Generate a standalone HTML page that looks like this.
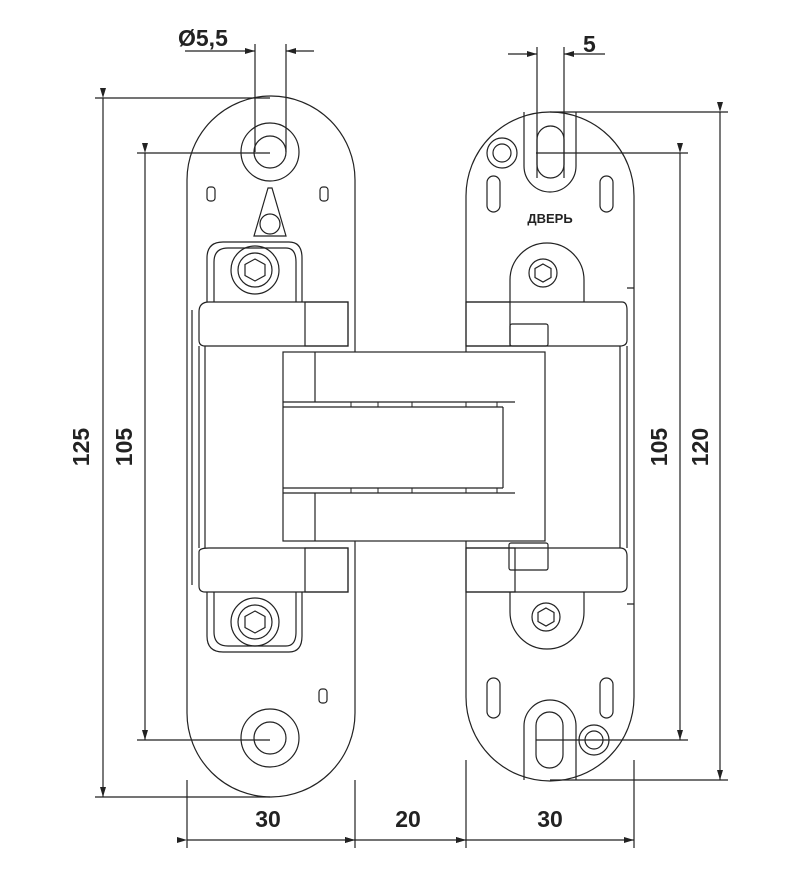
<!DOCTYPE html>
<html><head><meta charset="utf-8"><style>
html,body{margin:0;padding:0;background:#fff;width:800px;height:886px;overflow:hidden}
svg{display:block}
text{font-family:"Liberation Sans",sans-serif;font-weight:bold;fill:#222}
</style></head><body>
<svg width="800" height="886" viewBox="0 0 800 886" xmlns="http://www.w3.org/2000/svg">
<defs>
<marker id="ar" markerWidth="10" markerHeight="6" refX="10" refY="3" orient="auto" markerUnits="userSpaceOnUse"><path d="M0,0 L10,3 L0,6z" fill="#222"/></marker>
</defs>
<g fill="none" stroke="#222" stroke-width="1.2">
<line x1="95" y1="98" x2="270" y2="98"/>
<line x1="95" y1="797" x2="270" y2="797"/>
<line x1="103" y1="98" x2="103" y2="797" marker-start="url(#ar)" marker-end="url(#ar)"/>
<line x1="137" y1="153" x2="270" y2="153"/>
<line x1="137" y1="740" x2="270" y2="740"/>
<line x1="145" y1="153" x2="145" y2="740" marker-start="url(#ar)" marker-end="url(#ar)"/>
<line x1="550" y1="112" x2="728" y2="112"/>
<line x1="550" y1="780" x2="728" y2="780"/>
<line x1="720" y1="112" x2="720" y2="780" marker-start="url(#ar)" marker-end="url(#ar)"/>
<line x1="536" y1="153" x2="688" y2="153"/>
<line x1="536" y1="740" x2="688" y2="740"/>
<line x1="680" y1="153" x2="680" y2="740" marker-start="url(#ar)" marker-end="url(#ar)"/>
<line x1="187" y1="780" x2="187" y2="848"/>
<line x1="355" y1="780" x2="355" y2="848"/>
<line x1="466" y1="760" x2="466" y2="848"/>
<line x1="634" y1="760" x2="634" y2="848"/>
<line x1="187" y1="840" x2="355" y2="840" marker-start="url(#ar)" marker-end="url(#ar)"/>
<line x1="355" y1="840" x2="466" y2="840" marker-start="url(#ar)" marker-end="url(#ar)"/>
<line x1="466" y1="840" x2="634" y2="840" marker-start="url(#ar)" marker-end="url(#ar)"/>
<line x1="255" y1="44" x2="255" y2="152"/>
<line x1="286" y1="44" x2="286" y2="152"/>
<line x1="185" y1="51" x2="255" y2="51" marker-end="url(#ar)"/>
<line x1="314" y1="51" x2="286" y2="51" marker-end="url(#ar)"/>
<line x1="537" y1="47" x2="537" y2="178"/>
<line x1="564" y1="47" x2="564" y2="178"/>
<line x1="508" y1="54" x2="537" y2="54" marker-end="url(#ar)"/>
<line x1="605" y1="54" x2="564" y2="54" marker-end="url(#ar)"/>

<path d="M187,180 A84,84 0 0 1 355,180 L355,713 A84,84 0 0 1 187,713 Z"/>
<circle cx="270" cy="152" r="16"/><circle cx="270" cy="152" r="29"/>
<circle cx="270" cy="738" r="16"/><circle cx="270" cy="738" r="29"/>
<rect x="207" y="187" width="8" height="14" rx="3"/>
<rect x="320" y="187" width="8" height="14" rx="3"/>
<rect x="319" y="689" width="8" height="14" rx="3"/>
<path d="M268,188 L254,236 L286,236 L272,188 Z"/><circle cx="270" cy="224" r="10"/>
<path d="M207,302 L207,258 Q207,242 223,242 L289,242 Q302,242 302,258 L302,302"/>
<path d="M214,302 L214,262 Q214,248 228,248 L286,248 Q296,248 296,262 L296,302"/>
<circle cx="255" cy="270" r="24"/><circle cx="255" cy="270" r="17"/>
<polygon points="255,259 265,264.5 265,275.5 255,281 245,275.5 245,264.5"/>
<path d="M207,592 L207,636 Q207,652 223,652 L289,652 Q302,652 302,636 L302,592"/>
<path d="M214,592 L214,632 Q214,646 228,646 L286,646 Q296,646 296,632 L296,592"/>
<circle cx="255" cy="622" r="24"/><circle cx="255" cy="622" r="17"/>
<polygon points="255,611 265,616.5 265,627.5 255,633 245,627.5 245,616.5"/>
<path d="M199,312 Q199,302 209,302 L348,302 L348,346 L205,346 Q199,346 199,340 Z"/>
<rect x="305" y="302" width="43" height="44"/>
<path d="M192,310 L192,585 M199,346 L199,548 M205,346 L205,548"/>
<path d="M199,552 Q199,548 209,548 L348,548 L348,592 L205,592 Q199,592 199,586 Z"/>
<rect x="305" y="548" width="43" height="44"/>
<path d="M466,196 A84,84 0 0 1 634,196 L634,697 A84,84 0 0 1 466,697 Z"/>
<rect x="537" y="126" width="27" height="52" rx="13.5"/>
<path d="M524,112 L524,166 A26,26 0 0 0 576,166 L576,112"/>
<circle cx="502" cy="153" r="9"/><circle cx="502" cy="153" r="15"/>
<rect x="487" y="176" width="13" height="36" rx="6.5"/>
<rect x="600" y="176" width="13" height="36" rx="6.5"/>
<rect x="487" y="678" width="13" height="40" rx="6.5"/>
<rect x="600" y="678" width="13" height="40" rx="6.5"/>
<rect x="536" y="712" width="27" height="56" rx="13.5"/>
<path d="M524,780 L524,726 A26,26 0 0 1 576,726 L576,780"/>
<circle cx="594" cy="740" r="9"/><circle cx="594" cy="740" r="15"/>
<path d="M510,302 L510,280 A37,37 0 0 1 584,280 L584,302"/>
<circle cx="543" cy="273" r="14"/>
<polygon points="543,264 551,268.5 551,277.5 543,282 535,277.5 535,268.5"/>
<path d="M510,592 L510,612 A37,37 0 0 0 584,612 L584,592"/>
<circle cx="546" cy="617" r="14"/>
<polygon points="546,608 554,612.5 554,621.5 546,626 538,621.5 538,612.5"/>
<path d="M466,302 L622,302 Q627,302 627,310 L627,340 Q627,346 620,346 L466,346"/>
<rect x="466" y="302" width="44" height="44"/>
<rect x="510" y="324" width="38" height="22" rx="2"/>
<path d="M627,346 L627,548 M620,346 L620,548 M627,288 L634,288 M627,604 L634,604"/>
<path d="M466,548 L620,548 Q627,548 627,556 L627,586 Q627,592 620,592 L466,592"/>
<rect x="466" y="548" width="49" height="44"/>
<rect x="509" y="543" width="39" height="27" rx="2"/>
<rect x="283" y="352" width="262" height="189" fill="#fff"/>
<line x1="315" y1="352" x2="315" y2="402"/>
<line x1="315" y1="493" x2="315" y2="541"/>
<line x1="283" y1="402" x2="515" y2="402"/>
<line x1="283" y1="407" x2="503" y2="407"/>
<line x1="283" y1="488" x2="503" y2="488"/>
<line x1="283" y1="493" x2="515" y2="493"/>
<line x1="503" y1="407" x2="503" y2="488"/>
<g stroke-width="1">
<line x1="351" y1="402" x2="351" y2="407"/><line x1="378" y1="402" x2="378" y2="407"/><line x1="412" y1="402" x2="412" y2="407"/><line x1="466" y1="402" x2="466" y2="407"/><line x1="497" y1="402" x2="497" y2="407"/>
<line x1="351" y1="488" x2="351" y2="493"/><line x1="378" y1="488" x2="378" y2="493"/><line x1="412" y1="488" x2="412" y2="493"/><line x1="466" y1="488" x2="466" y2="493"/><line x1="497" y1="488" x2="497" y2="493"/>
</g>
</g>
<text x="178" y="46" font-size="23">Ø5,5</text>
<text x="583" y="52" font-size="23">5</text>
<text x="268" y="827" font-size="23" text-anchor="middle">30</text>
<text x="408" y="827" font-size="23" text-anchor="middle">20</text>
<text x="550" y="827" font-size="23" text-anchor="middle">30</text>
<text transform="translate(89,447) rotate(-90)" font-size="23" text-anchor="middle">125</text>
<text transform="translate(132,447) rotate(-90)" font-size="23" text-anchor="middle">105</text>
<text transform="translate(667,447) rotate(-90)" font-size="23" text-anchor="middle">105</text>
<text transform="translate(708,447) rotate(-90)" font-size="23" text-anchor="middle">120</text>
<text x="550" y="223" font-size="13" text-anchor="middle">ДВЕРЬ</text>
</svg>
</body></html>
